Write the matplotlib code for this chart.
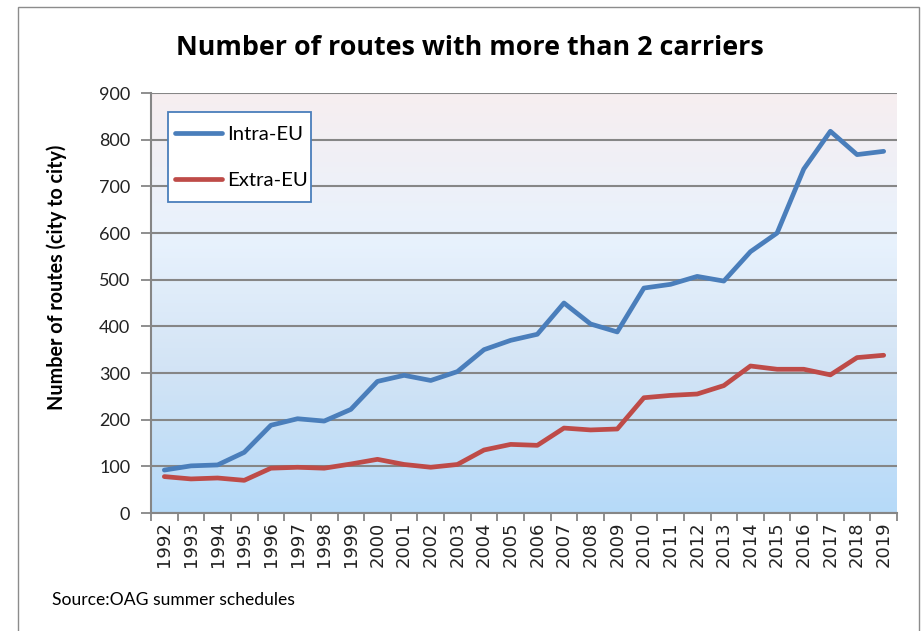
import matplotlib
matplotlib.use("Agg")
import matplotlib.pyplot as plt
import numpy as np
from matplotlib.colors import LinearSegmentedColormap
from matplotlib.patches import Rectangle

# data
years = [str(y) for y in range(1992, 2020)]
intra_eu = [92, 101, 103, 130, 188, 202, 197, 222, 282, 295, 284, 303, 350, 370,
            383, 450, 405, 388, 482, 490, 507, 497, 560, 600, 737, 818, 768, 775]
extra_eu = [78, 73, 75, 70, 96, 98, 96, 105, 115, 104, 98, 104, 135, 147,
            145, 182, 178, 180, 247, 252, 255, 273, 315, 308, 308, 296, 333, 338]
y_ticks = [0, 100, 200, 300, 400, 500, 600, 700, 800, 900]

fig = plt.figure(figsize=(9.24, 6.31), dpi=100)
ax = fig.add_axes([151/924, 1 - 513/631, (897 - 151)/924, (513 - 93)/631])

# background gradient of the plot area (light blue at bottom, pinkish at top)
grad = LinearSegmentedColormap.from_list(
    "bg", [(0.0, "#b6daf9"), (0.35, "#d3e4f5"), (0.65, "#e8f2fd"), (1.0, "#f7eef0")])
x = np.arange(len(years))
ax.imshow(np.linspace(0, 1, 256).reshape(-1, 1), cmap=grad, origin="lower",
          extent=[-0.5, len(years) - 0.5, 0, 900], aspect="auto", zorder=0)

ax.plot(x, intra_eu, color="#4a7ebb", lw=3.4, label="Intra-EU", zorder=3,
        solid_capstyle="round")
ax.plot(x, extra_eu, color="#be4b48", lw=3.4, label="Extra-EU", zorder=3,
        solid_capstyle="round")

ax.set_xlim(-0.5, len(years) - 0.5)
ax.set_ylim(0, 900)
ax.set_yticks(y_ticks)
ax.set_yticklabels([str(v) for v in y_ticks], fontsize=13, family="Lato", color="#222222")
ax.yaxis.grid(True, color="#868686", lw=1.5, zorder=1)
ax.set_axisbelow(False)

# ticks between categories, labels centred on them
ax.set_xticks(np.arange(-0.5, len(years), 1.0))
ax.set_xticklabels([])
ax.set_xticks(x, minor=True)
ax.set_xticklabels(years, minor=True, rotation=90, fontsize=13, color="#222222")
ax.tick_params(axis="x", which="minor", length=0, pad=6)
ax.tick_params(axis="x", which="major", length=6, color="#868686", width=1.3)
ax.tick_params(axis="y", length=7, color="#868686", width=1.3, pad=8)

for s in ["top", "right"]:
    ax.spines[s].set_visible(False)
for s in ["left", "bottom"]:
    ax.spines[s].set_color("#868686")
    ax.spines[s].set_linewidth(1.5)

# legend box drawn separately: Excel pads it more top/bottom than left/right
ax.add_patch(Rectangle((17/746, 1 - 109/420), 143/746, 90/420,
                       transform=ax.transAxes, facecolor="white",
                       edgecolor="#4a7ebb", lw=1.3, zorder=4))
leg = ax.legend(loc="upper left", bbox_to_anchor=(24/746, 1 - 33/420),
                borderaxespad=0, borderpad=0, frameon=False,
                prop={"family": "Lato", "size": 14.7},
                handlelength=2.3, labelspacing=1.4, handletextpad=0.25)
leg.set_zorder(5)

fig.text(470/924, 1 - 48/631, "Number of routes with more than 2 carriers",
         ha="center", va="center", fontsize=19.4, fontweight="bold", family="Open Sans")
fig.text(57/924, 1 - 277/631, "Number of routes (city to city)", rotation=90,
         ha="center", va="center", fontsize=14.2, fontweight="bold", family="Lato")
fig.text(52/924, 1 - 600/631, "Source:OAG summer schedules",
         ha="left", va="center", fontsize=12.6, family="Lato")

# outer chart frame (cut by the bottom of the picture)
fig.patches.append(Rectangle((18/924, -0.1), (919 - 18)/924, 1.1 - 7/631,
                             transform=fig.transFigure, fill=False,
                             edgecolor="#8c8c8c", lw=1.0))

fig.savefig("out.png", dpi=100)
